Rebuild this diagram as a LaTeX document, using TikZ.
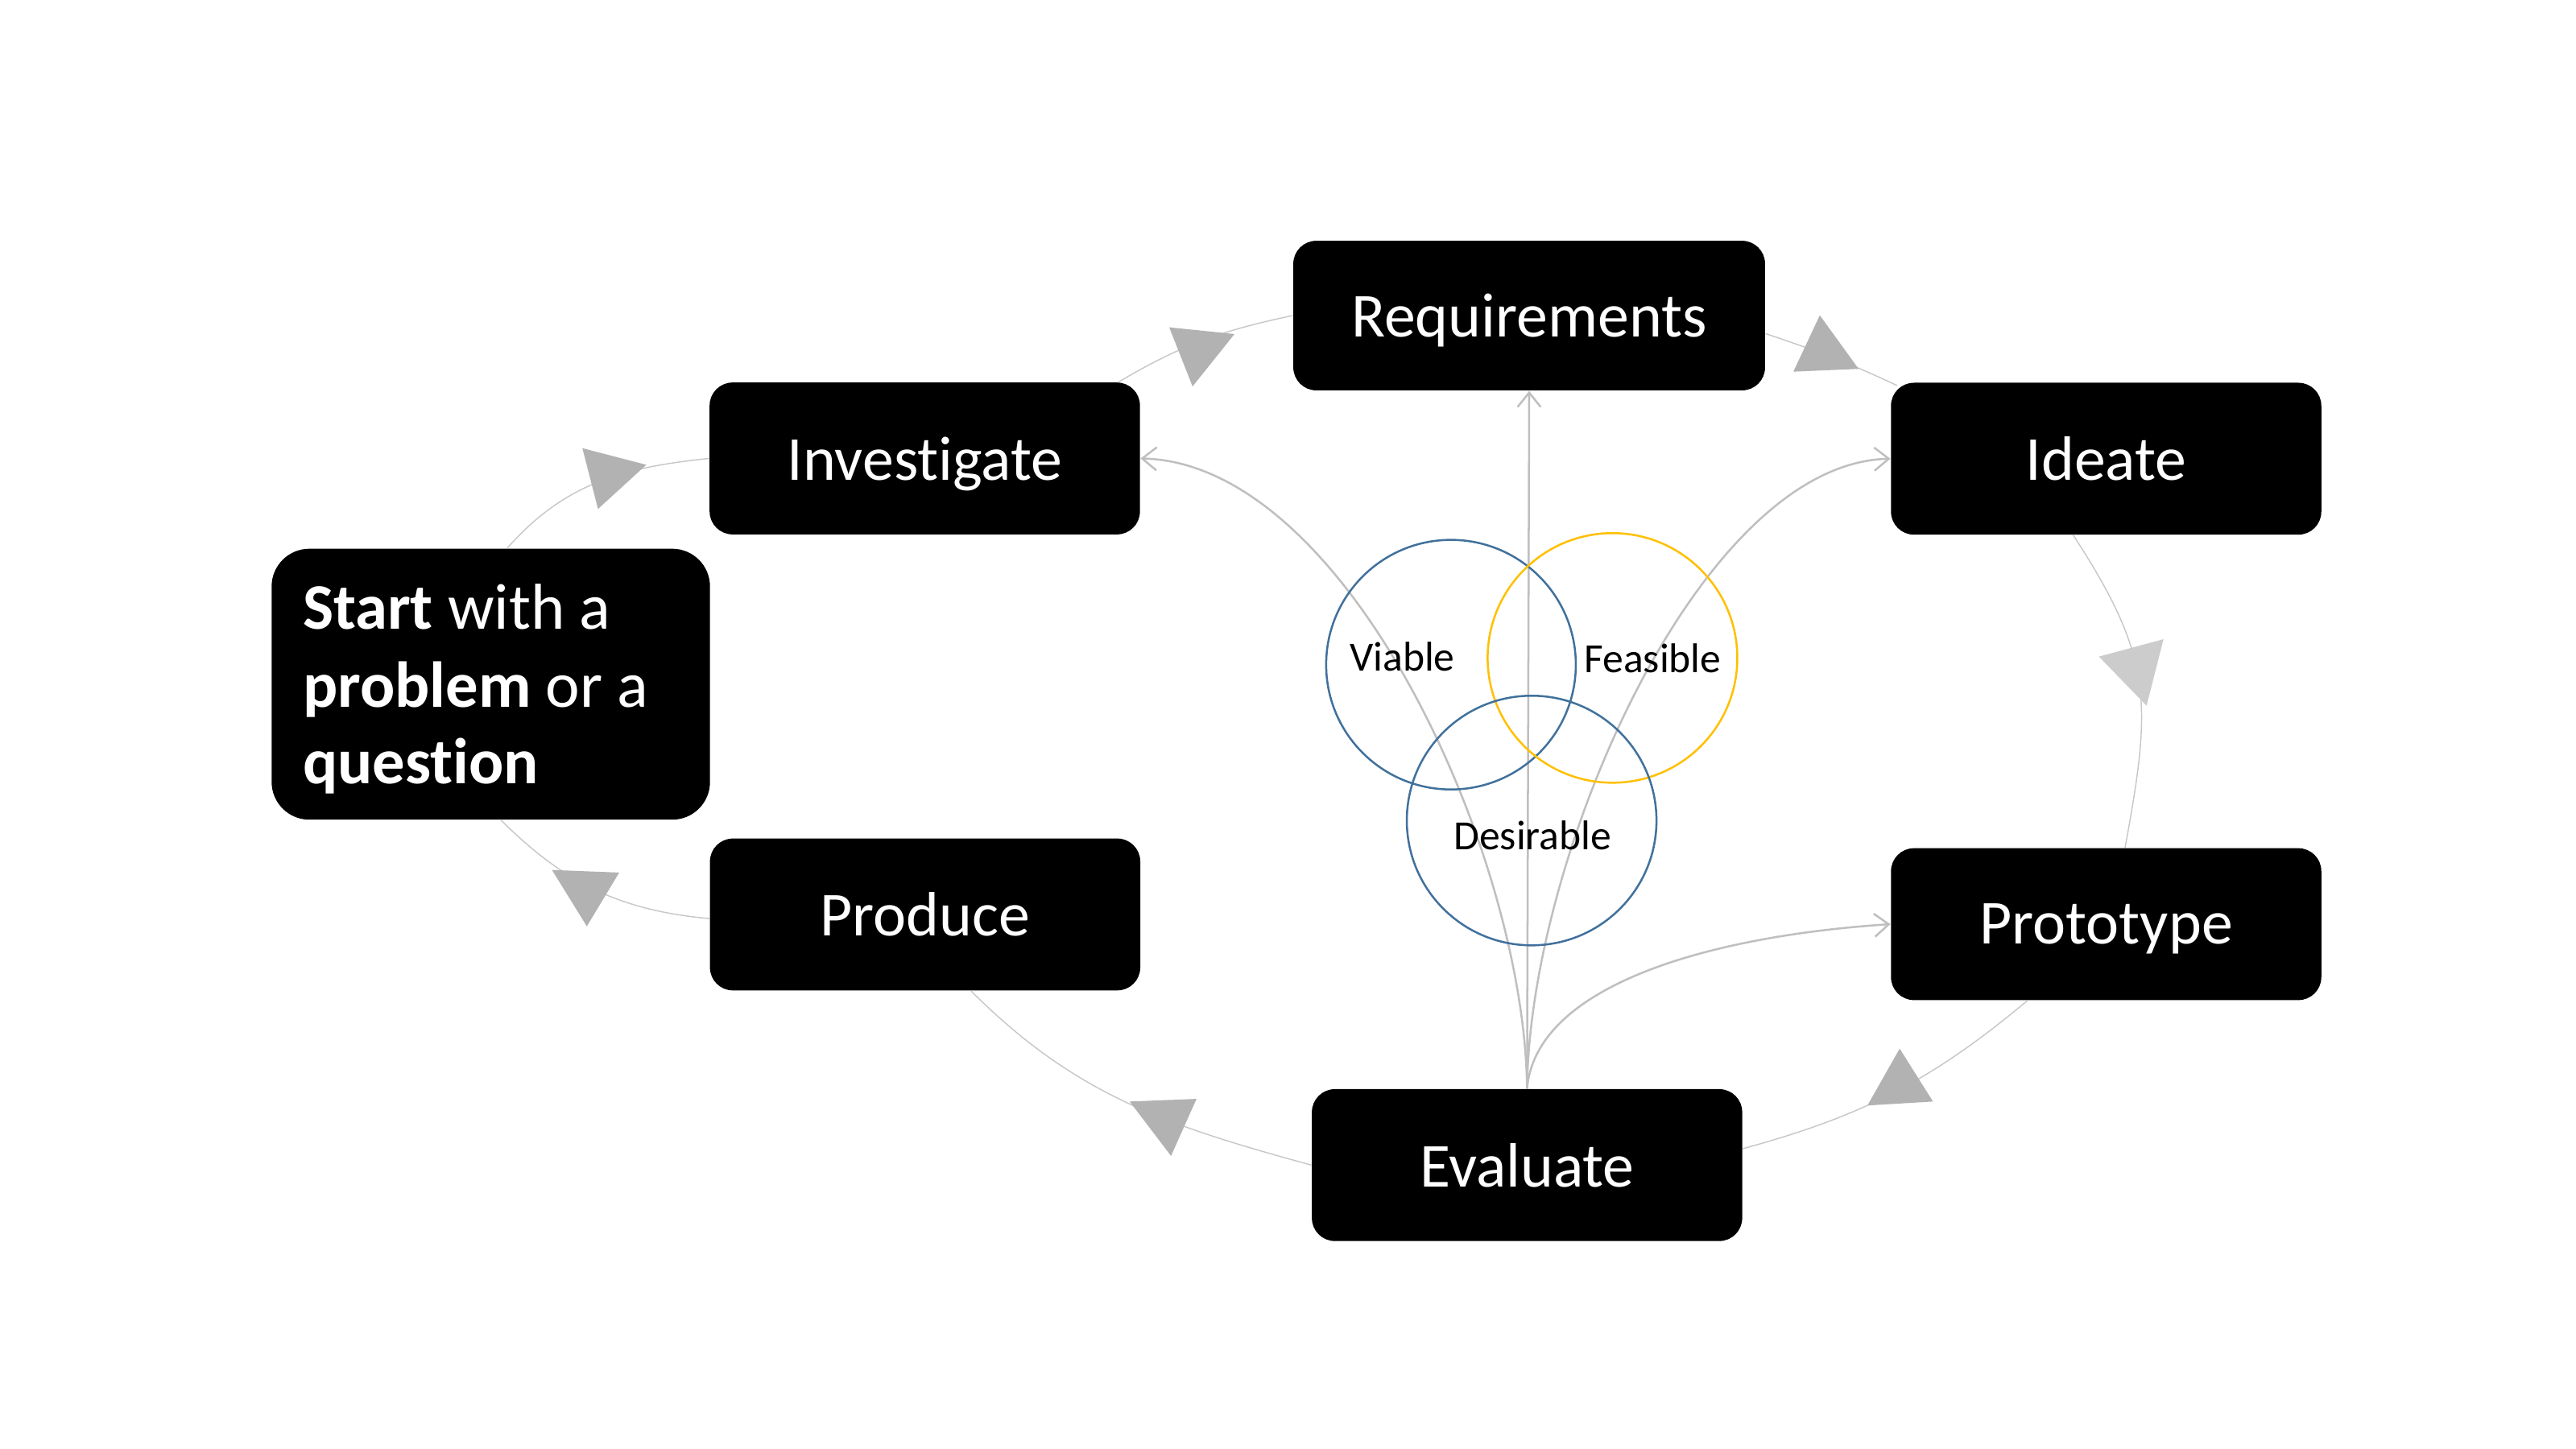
\documentclass[tikz,border=0pt]{standalone}
\usepackage{fontspec}
\setmainfont{Carlito}[Ligatures=NoCommon]
\usetikzlibrary{arrows.meta}
\definecolor{vennblue}{RGB}{65,113,156}
\definecolor{vennyellow}{RGB}{255,192,0}
\begin{document}
\begin{tikzpicture}[x=0.02cm,y=-0.02cm,
  stagebox/.style={fill=black, rounded corners=0.28cm, text=white, inner sep=0pt, text depth=0pt,
    minimum width=5.24cm, minimum height=1.85cm, font=\fontsize{21.7}{26}\selectfont},
  startbox/.style={fill=black, rounded corners=0.46cm, inner sep=0pt,
    minimum width=5.338cm, minimum height=3.3cm},
  starttext/.style={text=white, inner sep=0pt, anchor=base west, font=\fontsize{22.5}{27}\selectfont},
  venn/.style={draw, line width=0.7pt, circle, minimum size=3.04cm, inner sep=0pt},
  vennlabel/.style={font=\fontsize{14.4}{17}\selectfont, inner sep=0pt},
  fan/.style={draw=black!25, line width=0.7pt, -{Straight Barb[length=5pt,width=8pt]}},
  cyc/.style={draw=black!22, line width=0.4pt},
  tri/.style={fill=black!30},
  trilight/.style={fill=black!20}]
\useasboundingbox[fill=white] (0,0) rectangle (1568,882);

% boxes
\node[stagebox, minimum width=5.744cm, minimum height=1.822cm] (req) at (930.8,192.15) {Requirements};
\node[stagebox] (inv) at (562.9,279.15) {Invest\kern0pt igate};
\node[stagebox] (ide) at (1282,279.3) {Ideate};
\node[stagebox] (prod) at (563.1,556.8) {Produce};
\node[stagebox] (proto) at (1282,562.7) {Prototype};
\node[stagebox] (eval) at (929.5,709.4) {Evaluate};
\node[startbox] (start) at (298.75,416.6) {};
\node[starttext] (s1) at (184,383.1) {\textbf{Start} with a};
\node[starttext] (s2) at (184,430.5) {\textbf{problem} or a};
\node[starttext] (s3) at (184,477) {\textbf{quest\kern0pt ion}};

% cycle arcs
\draw[cyc] ([shift={(10,0)}]start.north) .. controls (343.6,294.2) and (379.6,284.5) .. (inv.west);
\draw[cyc] ([shift={(118,0)}]inv.north) .. controls (719.1,210) and (744,201.1) .. (req.west);
\draw[cyc] ([shift={(0,11)}]req.east) .. controls (1106.7,213.9) and (1124.2,220.4) .. ([shift={(4,2)}]ide.north west);
\draw[cyc] ([shift={(-20,0)}]ide.south) .. controls (1311,401.1) and (1309.7,428.1) .. ([shift={(11.5,0)}]proto.north);
\draw[cyc] ([shift={(0,-10)}]eval.east) .. controls (1133.7,679.6) and (1175.8,657.9) .. ([shift={(-48,0)}]proto.south);
\draw[cyc] (eval.west) .. controls (711.3,685.6) and (654.9,667.3) .. ([shift={(28,0)}]prod.south);
\draw[cyc] ([shift={(0,2.5)}]prod.west) .. controls (377.4,554.3) and (343.9,538) .. ([shift={(6.25,0)}]start.south);

% triangles on the cycle
\fill[tri] (354.5,272.9) -- (393.4,283.0) -- (364.0,309.9) -- cycle;
\fill[tri] (711.7,199.3) -- (751.4,203.4) -- (725.9,235.3) -- cycle;
\fill[tri] (1107.7,192) -- (1091.6,226.3) -- (1131.3,224.6) -- cycle;
\fill[trilight] (1277.6,399.8) -- (1316.9,389.2) -- (1306.6,429.7) -- cycle;
\fill[tri] (1156.3,638.5) -- (1136.7,673.1) -- (1176.6,670.7) -- cycle;
\fill[tri] (687.6,670.7) -- (728.3,669.1) -- (712.8,703.8) -- cycle;
\fill[tri] (336,529.7) -- (376.9,531.3) -- (357.2,564) -- cycle;

% fan from Evaluate
\draw[fan] (eval.north) -- (req.south);
\draw[fan] (eval.north) .. controls (928,520) and (820,282) .. (inv.east);
\draw[fan] (eval.north) .. controls (931,520) and (1035,282) .. (ide.west);
\draw[fan] (eval.north) .. controls (935,600) and (1040,570) .. (proto.west);

% Venn circles
\node[venn, draw=vennblue] (viable) at (883.2,404.7) {};
\node[venn, draw=vennyellow] (feasible) at (981.5,400.6) {};
\node[venn, draw=vennblue] (desirable) at (932.3,499.6) {};
\node[vennlabel] (lviable) at (853.6,400) {Viable};
\node[vennlabel] (lfeasible) at (1006,400.7) {Feasible};
\node[vennlabel] (ldesirable) at (932.9,508.8) {Desirable};
\end{tikzpicture}
\end{document}
